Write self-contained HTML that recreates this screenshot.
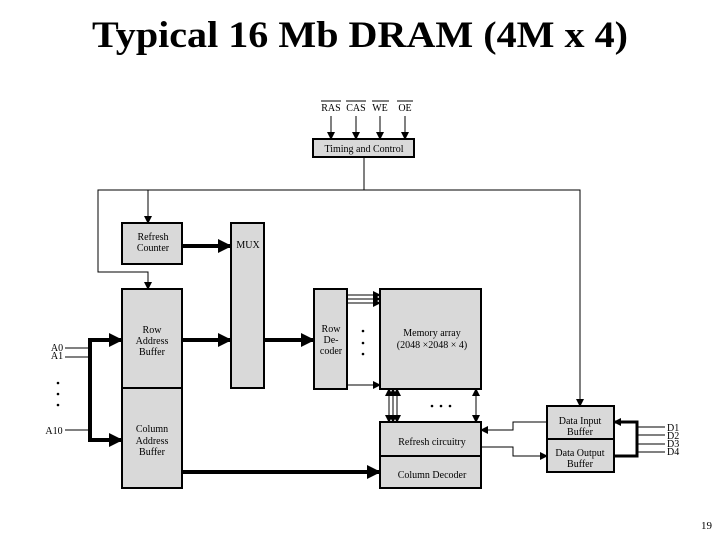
<!DOCTYPE html>
<html><head><meta charset="utf-8"><style>
html,body{margin:0;padding:0;background:#fff;}
svg{display:block;}
text{font-family:"Liberation Serif",serif;fill:#000;}
</style></head><body>
<svg width="720" height="540" viewBox="0 0 720 540" xmlns="http://www.w3.org/2000/svg">
<defs>
<marker id="a" markerWidth="8" markerHeight="8" refX="7" refY="4" orient="auto" markerUnits="userSpaceOnUse"><path d="M0,0 L8,4 L0,8 z" fill="#000"/></marker>
<marker id="ab" markerWidth="14" markerHeight="14" refX="13" refY="7" orient="auto" markerUnits="userSpaceOnUse"><path d="M0,0 L14,7 L0,14 z" fill="#000"/></marker>
</defs>
<text x="360" y="47" font-size="37" font-weight="bold" text-anchor="middle" textLength="536" lengthAdjust="spacingAndGlyphs">Typical 16 Mb DRAM (4M x 4)</text>
<text x="712" y="529" font-size="11" text-anchor="end">19</text>

<g font-size="10" text-anchor="middle">
<text x="331" y="111">RAS</text><text x="356" y="111">CAS</text><text x="380" y="111">WE</text><text x="405" y="111">OE</text>
</g>
<g stroke="#000" stroke-width="1" fill="none">
<line x1="321" y1="101" x2="341" y2="101"/><line x1="346" y1="101" x2="366" y2="101"/><line x1="372" y1="101" x2="389" y2="101"/><line x1="397" y1="101" x2="413" y2="101"/>
<line x1="331" y1="116" x2="331" y2="139" marker-end="url(#a)"/>
<line x1="356" y1="116" x2="356" y2="139" marker-end="url(#a)"/>
<line x1="380" y1="116" x2="380" y2="139" marker-end="url(#a)"/>
<line x1="405" y1="116" x2="405" y2="139" marker-end="url(#a)"/>
<line x1="364" y1="157" x2="364" y2="190"/>
<polyline points="148,190 98,190 98,272 148,272 148,289" marker-end="url(#a)"/>
<line x1="148" y1="190" x2="148" y2="223" marker-end="url(#a)"/>
<polyline points="148,190 580,190 580,406" marker-end="url(#a)"/>
</g>
<g stroke="#000" stroke-width="2" fill="#d9d9d9">
<rect x="313" y="139" width="101" height="18"/>
<rect x="122" y="223" width="60" height="41"/>
<rect x="231" y="223" width="33" height="165"/>
<rect x="122" y="289" width="60" height="99"/>
<rect x="122" y="388" width="60" height="100"/>
<rect x="314" y="289" width="33" height="100"/>
<rect x="380" y="289" width="101" height="100"/>
<rect x="380" y="422" width="101" height="34"/>
<rect x="380" y="456" width="101" height="32"/>
<rect x="547" y="406" width="67" height="33"/>
<rect x="547" y="439" width="67" height="33"/>
</g>
<g font-size="10" text-anchor="middle">
<text x="364" y="152">Timing and Control</text>
<text x="153" y="240">Refresh</text><text x="153" y="251">Counter</text>
<text x="248" y="248">MUX</text>
<text x="152" y="333">Row</text><text x="152" y="344">Address</text><text x="152" y="355">Buffer</text>
<text x="152" y="432">Column</text><text x="152" y="444">Address</text><text x="152" y="455">Buffer</text>
<text x="331" y="332">Row</text><text x="331" y="343">De-</text><text x="331" y="354">coder</text>
<text x="432" y="336">Memory array</text><text x="432" y="348">(2048 ×2048 × 4)</text>
<text x="432" y="445">Refresh circuitry</text>
<text x="432" y="478">Column Decoder</text>
<text x="580" y="424">Data Input</text><text x="580" y="435">Buffer</text>
<text x="580" y="456">Data Output</text><text x="580" y="467">Buffer</text>
<text x="57" y="351">A0</text><text x="57" y="359">A1</text><text x="54" y="434">A10</text>
</g>
<g font-size="10">
<text x="667" y="431">D1</text><text x="667" y="439">D2</text><text x="667" y="447">D3</text><text x="667" y="455">D4</text>
</g>
<g fill="#000">
<circle cx="58" cy="383" r="1.3"/><circle cx="58" cy="394" r="1.3"/><circle cx="58" cy="405" r="1.3"/>
<circle cx="363" cy="331" r="1.3"/><circle cx="363" cy="343" r="1.3"/><circle cx="363" cy="354" r="1.3"/>
<circle cx="432" cy="406" r="1.3"/><circle cx="441" cy="406" r="1.3"/><circle cx="450" cy="406" r="1.3"/>
</g>
<g stroke="#000" fill="none">
<line x1="65" y1="348" x2="90" y2="348" stroke-width="1"/>
<line x1="65" y1="357" x2="90" y2="357" stroke-width="1"/>
<line x1="65" y1="430" x2="90" y2="430" stroke-width="1"/>
<polyline points="122,340 90,340 90,440 122,440" stroke-width="4"/>
<line x1="182" y1="246" x2="231" y2="246" stroke-width="4" marker-end="url(#ab)"/>
<line x1="182" y1="340" x2="231" y2="340" stroke-width="4" marker-end="url(#ab)"/>
<line x1="264" y1="340" x2="314" y2="340" stroke-width="4" marker-end="url(#ab)"/>
<line x1="182" y1="472" x2="380" y2="472" stroke-width="4" marker-end="url(#ab)"/>
<line x1="100" y1="340" x2="122" y2="340" stroke-width="4" marker-end="url(#ab)"/>
<line x1="100" y1="440" x2="122" y2="440" stroke-width="4" marker-end="url(#ab)"/>
<g stroke-width="1">
<line x1="347" y1="295" x2="380" y2="295" marker-end="url(#a)"/>
<line x1="347" y1="299" x2="380" y2="299" marker-end="url(#a)"/>
<line x1="347" y1="303" x2="380" y2="303" marker-end="url(#a)"/>
<line x1="347" y1="385" x2="380" y2="385" marker-end="url(#a)"/>
<line x1="389" y1="397" x2="389" y2="389" marker-end="url(#a)"/><line x1="389" y1="412" x2="389" y2="422" marker-end="url(#a)"/><line x1="389" y1="395" x2="389" y2="414"/>
<line x1="393" y1="397" x2="393" y2="389" marker-end="url(#a)"/><line x1="393" y1="412" x2="393" y2="422" marker-end="url(#a)"/><line x1="393" y1="395" x2="393" y2="414"/>
<line x1="397" y1="397" x2="397" y2="389" marker-end="url(#a)"/><line x1="397" y1="412" x2="397" y2="422" marker-end="url(#a)"/><line x1="397" y1="395" x2="397" y2="414"/>
<line x1="476" y1="397" x2="476" y2="389" marker-end="url(#a)"/><line x1="476" y1="412" x2="476" y2="422" marker-end="url(#a)"/><line x1="476" y1="395" x2="476" y2="414"/>
<polyline points="547,422 513,422 513,430 481,430" marker-end="url(#a)"/>
<polyline points="481,447 513,447 513,456 547,456" marker-end="url(#a)"/>
<line x1="637" y1="427" x2="665" y2="427"/><line x1="637" y1="435" x2="665" y2="435"/>
<line x1="637" y1="444" x2="665" y2="444"/><line x1="637" y1="452" x2="665" y2="452"/>
</g>
<polyline points="614,456 637,456 637,422 625,422" stroke-width="3"/>
<line x1="626" y1="422" x2="614" y2="422" stroke-width="3" marker-end="url(#a)"/>
</g>
</svg>
</body></html>
